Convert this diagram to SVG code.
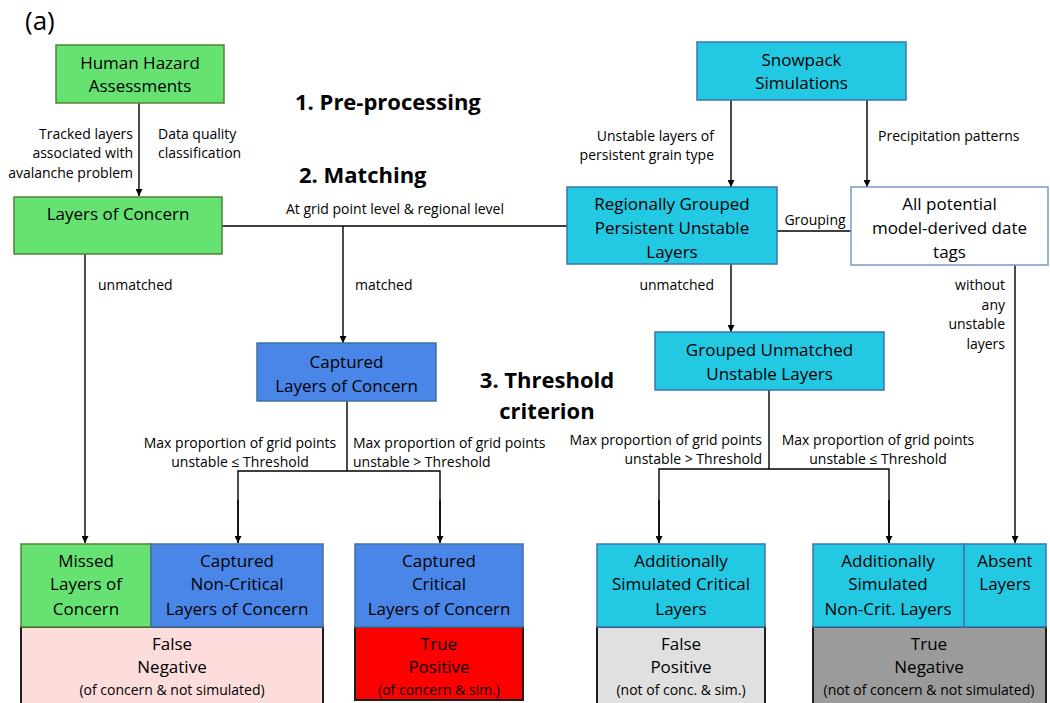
<svg xmlns="http://www.w3.org/2000/svg" width="1050" height="703" viewBox="0 0 1050 703">
<style>
text{font-family:"Open Sans","Noto Sans","DejaVu Sans",sans-serif;fill:#000}
.t{font-size:17px;text-anchor:middle}
.s{font-size:14px}
.sm{font-size:14px;text-anchor:middle}
.h{font-size:22px;font-weight:bold}
.green{fill:#65e272;stroke:#548235;stroke-width:1.5}
.cyan{fill:#23c9e3;stroke:#3f73ae;stroke-width:1.5}
.blue{fill:#4a86e8;stroke:#41719c;stroke-width:1.5}
.white{fill:#fff;stroke:#7b9bc6;stroke-width:1.5}
.res{stroke:#1e1e1e;stroke-width:2}
.c line,.c path{stroke:#000;stroke-width:1.4;fill:none}
</style>
<defs>
<marker id="arr" viewBox="0 0 10 10" refX="10" refY="5" markerWidth="7" markerHeight="7" markerUnits="userSpaceOnUse" orient="auto">
<path d="M0,0 L10,5 L0,10 z" fill="#000"/>
</marker>
</defs>
<rect width="1050" height="703" fill="#fff"/>
<text x="25" y="30" style="font-size:26px">(a)</text>
<text class="h" x="295" y="110">1. Pre-processing</text>
<text class="h" x="299" y="183">2. Matching</text>
<text class="h" x="547" y="388" text-anchor="middle">3. Threshold</text>
<text class="h" x="547" y="419" text-anchor="middle">criterion</text>

<g class="c" id="connectors">
<line x1="139" y1="103" x2="139" y2="196" marker-end="url(#arr)"/>
<line x1="222" y1="226" x2="567" y2="226"/>
<line x1="343" y1="226" x2="343" y2="343" marker-end="url(#arr)"/>
<line x1="85" y1="254" x2="85" y2="543" marker-end="url(#arr)"/>
<line x1="731" y1="100" x2="731" y2="187" marker-end="url(#arr)"/>
<line x1="867" y1="100" x2="867" y2="187" marker-end="url(#arr)"/>
<line x1="777" y1="231" x2="851" y2="231"/>
<line x1="731" y1="264" x2="731" y2="332" marker-end="url(#arr)"/>
<line x1="1015" y1="265" x2="1015" y2="543" marker-end="url(#arr)"/>
<line x1="347" y1="401" x2="347" y2="471"/>
<path d="M238,543 V471 H440 V543"/>
<line x1="238" y1="500" x2="238" y2="543" marker-end="url(#arr)"/>
<line x1="440" y1="500" x2="440" y2="543" marker-end="url(#arr)"/>
<line x1="769" y1="390" x2="769" y2="469"/>
<path d="M659,543 V469 H889 V543"/>
<line x1="659" y1="500" x2="659" y2="543" marker-end="url(#arr)"/>
<line x1="889" y1="500" x2="889" y2="543" marker-end="url(#arr)"/>
</g>

<g id="labels">
<text class="s" x="133" y="139" text-anchor="end">Tracked layers</text>
<text class="s" x="133" y="158" text-anchor="end">associated with</text>
<text class="s" x="133" y="178" text-anchor="end">avalanche problem</text>
<text class="s" x="158" y="139">Data quality</text>
<text class="s" x="158" y="158">classification</text>
<text class="sm" x="395" y="214">At grid point level &amp; regional level</text>
<text class="s" x="355" y="290">matched</text>
<text class="s" x="98" y="290">unmatched</text>
<text class="s" x="714" y="290" text-anchor="end">unmatched</text>
<text class="s" x="714" y="141" text-anchor="end">Unstable layers of</text>
<text class="s" x="714" y="160" text-anchor="end">persistent grain type</text>
<text class="s" x="878" y="141">Precipitation patterns</text>
<text class="sm" x="815" y="225">Grouping</text>
<text class="s" x="1005" y="290" text-anchor="end">without</text>
<text class="s" x="1005" y="310" text-anchor="end">any</text>
<text class="s" x="1005" y="329" text-anchor="end">unstable</text>
<text class="s" x="1005" y="349" text-anchor="end">layers</text>
<text class="sm" x="240" y="448">Max proportion of grid points</text>
<text class="sm" x="240" y="467">unstable ≤ Threshold</text>
<text class="s" x="353" y="448">Max proportion of grid points</text>
<text class="s" x="353" y="467">unstable &gt; Threshold</text>
<text class="s" x="762" y="445" text-anchor="end">Max proportion of grid points</text>
<text class="s" x="762" y="464" text-anchor="end">unstable &gt; Threshold</text>
<text class="sm" x="878" y="445">Max proportion of grid points</text>
<text class="sm" x="878" y="464">unstable ≤ Threshold</text>
</g>

<g id="hha">
<rect class="green" x="56" y="45" width="168" height="58"/>
<text class="t" x="140" y="69">Human Hazard</text>
<text class="t" x="140" y="92">Assessments</text>
</g>
<g id="loc">
<rect class="green" x="14" y="197" width="208" height="57"/>
<text class="t" x="118" y="220">Layers of Concern</text>
</g>
<g id="snowpack">
<rect class="cyan" x="697" y="42" width="209" height="58"/>
<text class="t" x="801.5" y="66">Snowpack</text>
<text class="t" x="801.5" y="89">Simulations</text>
</g>
<g id="regional">
<rect class="cyan" x="567" y="187" width="210" height="77"/>
<text class="t" x="672" y="210">Regionally Grouped</text>
<text class="t" x="672" y="234">Persistent Unstable</text>
<text class="t" x="672" y="258">Layers</text>
</g>
<g id="datetags">
<rect class="white" x="851" y="187" width="197" height="78"/>
<text class="t" x="949.5" y="210">All potential</text>
<text class="t" x="949.5" y="234">model-derived date</text>
<text class="t" x="949.5" y="258">tags</text>
</g>
<g id="captured">
<rect class="blue" x="257" y="343" width="179" height="58"/>
<text class="t" x="346.5" y="368">Captured</text>
<text class="t" x="346.5" y="392">Layers of Concern</text>
</g>
<g id="grouped">
<rect class="cyan" x="655" y="332" width="229" height="58"/>
<text class="t" x="769.5" y="356">Grouped Unmatched</text>
<text class="t" x="769.5" y="380">Unstable Layers</text>
</g>

<g id="fn">
<rect class="res" x="21" y="627" width="302" height="78" fill="#fddcdc"/>
<text class="t" x="172" y="650">False</text>
<text class="t" x="172" y="673">Negative</text>
<text class="sm" x="172" y="695">(of concern &amp; not simulated)</text>
</g>
<g id="missed">
<rect class="green" x="21" y="544" width="130" height="83"/>
<text class="t" x="86" y="567">Missed</text>
<text class="t" x="86" y="590">Layers of</text>
<text class="t" x="86" y="615">Concern</text>
</g>
<g id="cnc">
<rect class="blue" x="151" y="544" width="172" height="83"/>
<text class="t" x="237" y="567">Captured</text>
<text class="t" x="237" y="590">Non-Critical</text>
<text class="t" x="237" y="615">Layers of Concern</text>
</g>
<g id="tp">
<rect class="res" x="355" y="627" width="168" height="73" fill="#ff0000"/>
<text class="t" x="439" y="650">True</text>
<text class="t" x="439" y="673">Positive</text>
<text class="sm" x="439" y="695">(of concern &amp; sim.)</text>
</g>
<g id="cc">
<rect class="blue" x="355" y="544" width="168" height="83"/>
<text class="t" x="439" y="567">Captured</text>
<text class="t" x="439" y="590">Critical</text>
<text class="t" x="439" y="615">Layers of Concern</text>
</g>
<g id="fp">
<rect class="res" x="597" y="627" width="168" height="78" fill="#e0e0e0"/>
<text class="t" x="681" y="650">False</text>
<text class="t" x="681" y="673">Positive</text>
<text class="sm" x="681" y="695">(not of conc. &amp; sim.)</text>
</g>
<g id="asc">
<rect class="cyan" x="597" y="544" width="168" height="83"/>
<text class="t" x="681" y="567">Additionally</text>
<text class="t" x="681" y="590">Simulated Critical</text>
<text class="t" x="681" y="615">Layers</text>
</g>
<g id="tn">
<rect class="res" x="813" y="627" width="233" height="78" fill="#9b9b9b"/>
<text class="t" x="929" y="650">True</text>
<text class="t" x="929" y="673">Negative</text>
<text class="sm" x="929" y="695">(not of concern &amp; not simulated)</text>
</g>
<g id="anc">
<rect class="cyan" x="813" y="544" width="151" height="83"/>
<text class="t" x="888" y="567">Additionally</text>
<text class="t" x="888" y="590">Simulated</text>
<text class="t" x="888" y="615">Non-Crit. Layers</text>
</g>
<g id="absent">
<rect class="cyan" x="964" y="544" width="82" height="83"/>
<text class="t" x="1005" y="567">Absent</text>
<text class="t" x="1005" y="590">Layers</text>
</g>
</svg>
